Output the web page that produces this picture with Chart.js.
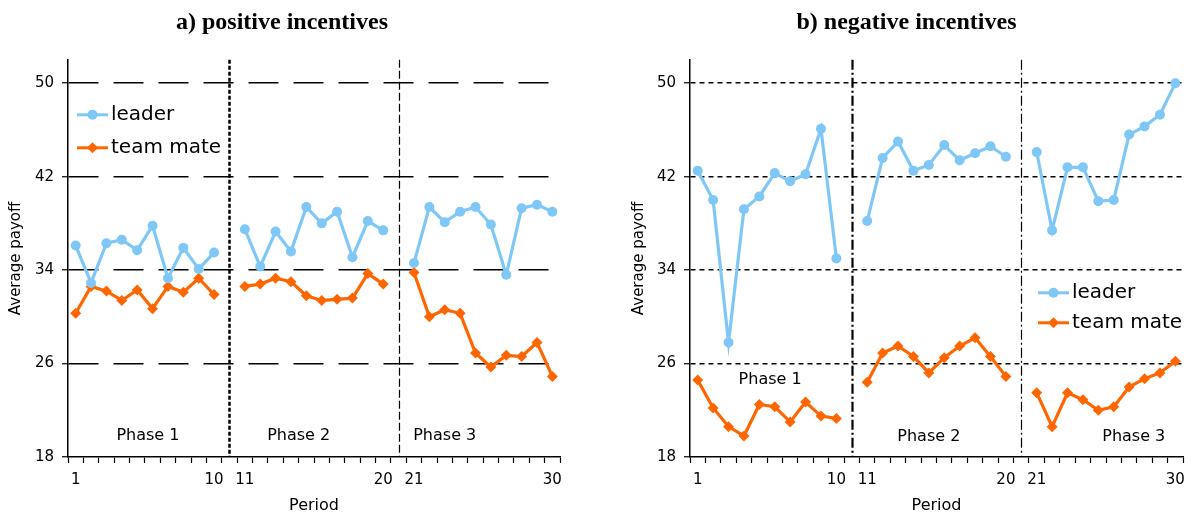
<!DOCTYPE html>
<html>
<head>
<meta charset="utf-8">
<script src="https://cdn.jsdelivr.net/npm/chart.js@4.4.1/dist/chart.umd.min.js"></script>
<style>
  body { margin: 0; background: #fff; }
  #wrap { position: relative; width: 1193px; height: 515px; }
  canvas { position: absolute; top: 0; }
  #left { left: 0; }
  #right { left: 623px; }
</style>
</head>
<body>
<div id="wrap">
  <canvas id="left" width="570" height="515"></canvas>
  <canvas id="right" width="570" height="515"></canvas>
</div>
<script>
'use strict'

var periods = [1, 2, 3, 4, 5, 6, 7, 8, 9, 10, 11, 12, 13, 14, 15, 16, 17, 18, 19, 20, 21, 22, 23, 24, 25, 26, 27, 28, 29, 30];
var shownPeriods = ['1', '10', '11', '20', '21', '30'];
var yTicks = [18, 26, 34, 42, 50];
var seriesNames = ['leader', 'team mate'];

/* a) positive incentives */
var posLeader = [36.1, 32.9, 36.3, 36.6, 35.7, 37.8, 33.3, 35.9, 34.1, 35.5,
                 37.5, 34.3, 37.3, 35.6, 39.4, 38.0, 39.0, 35.1, 38.2, 37.4,
                 34.6, 39.4, 38.1, 39.0, 39.4, 37.9, 33.6, 39.3, 39.6, 39.0];
var posMate = [30.3, 32.6, 32.2, 31.4, 32.3, 30.7, 32.6, 32.1, 33.3, 31.9,
               32.6, 32.8, 33.3, 33.0, 31.8, 31.4, 31.5, 31.6, 33.7, 32.8,
               33.8, 30.0, 30.6, 30.3, 26.9, 25.7, 26.7, 26.6, 27.8, 24.9];

/* b) negative incentives */
var negLeader = [42.5, 40.0, 27.8, 39.2, 40.3, 42.3, 41.6, 42.2, 46.1, 35.0,
                 38.2, 43.6, 45.0, 42.5, 43.0, 44.7, 43.4, 44.0, 44.6, 43.7,
                 44.1, 37.4, 42.8, 42.8, 39.9, 40.0, 45.6, 46.3, 47.3, 50.0];
var negMate = [24.6, 22.2, 20.6, 19.8, 22.5, 22.3, 21.0, 22.7, 21.5, 21.3,
               24.4, 26.9, 27.5, 26.6, 25.2, 26.5, 27.5, 28.2, 26.6, 24.9,
               23.5, 20.6, 23.5, 22.9, 22.0, 22.3, 24.0, 24.7, 25.2, 26.2];

var leaderColor = '#7fc7f7';
var mateColor = '#ff6600';
var sans = 'DejaVu Sans';

// an empty category between the phases breaks the lines
function withGaps(arr) {
    return arr.slice(0, 10).concat([null], arr.slice(10, 20), [null], arr.slice(20));
}
var labels = withGaps(periods.map(String)).map(function (l) { return l === null ? '' : l; });

function drawMarker(ctx, style, x, y, r, color) {
    ctx.fillStyle = color;
    ctx.beginPath();
    if (style === 'circle') {
        ctx.arc(x, y, r, 0, Math.PI * 2);
    } else {
        ctx.moveTo(x, y - r); ctx.lineTo(x + r, y); ctx.lineTo(x, y + r); ctx.lineTo(x - r, y);
        ctx.closePath();
    }
    ctx.fill();
}

var panelDecor = {
    id: 'panelDecor',
    beforeDatasetsDraw: function (chart, args, opts) {
        var ctx = chart.ctx, a = chart.chartArea, xs = chart.scales.x;
        ctx.save();
        opts.separators.forEach(function (s) {
            var x = Math.round(xs.getPixelForValue(s.index)) + 0.5;
            ctx.strokeStyle = '#000';
            ctx.lineWidth = s.width;
            ctx.setLineDash(s.dash);
            ctx.beginPath();
            ctx.moveTo(x, a.top);
            ctx.lineTo(x, a.bottom);
            ctx.stroke();
        });
        ctx.restore();
    },
    afterDatasetsDraw: function (chart, args, opts) {
        var ctx = chart.ctx, a = chart.chartArea, xs = chart.scales.x, ys = chart.scales.y;
        ctx.save();
        ctx.fillStyle = '#000';
        ctx.font = '16px "' + sans + '"';
        ctx.textAlign = 'center';
        ctx.textBaseline = 'middle';
        opts.phases.forEach(function (p, i) {
            ctx.fillText('Phase ' + (i + 1), xs.getPixelForValue(p.x), ys.getPixelForValue(p.y));
        });
        // legend inside the plot area
        var lg = opts.legend;
        chart.data.datasets.forEach(function (ds, i) {
            var y = a.top + lg.top + i * lg.gap;
            var x1 = a.left + lg.left, x2 = x1 + lg.lineLen;
            ctx.strokeStyle = ds.borderColor;
            ctx.lineWidth = 3;
            ctx.beginPath();
            ctx.moveTo(x1, y);
            ctx.lineTo(x2, y);
            ctx.stroke();
            drawMarker(ctx, ds.pointStyle, (x1 + x2) / 2, y, ds.pointRadius, ds.borderColor);
            ctx.fillStyle = '#000';
            ctx.font = '20px "' + sans + '"';
            ctx.textAlign = 'left';
            ctx.fillText(ds.label, x2 + 3, y);
        });
        ctx.restore();
    }
};

function makeChart(id, title, leader, mate, yWidth, padRight, gridDash, decor) {
    var ctx = document.getElementById(id).getContext('2d');
    return new Chart(ctx, {
        type: 'line',
        data: {
            labels: labels,
            datasets: [{
                label: seriesNames[0],
                data: withGaps(leader),
                borderColor: leaderColor,
                backgroundColor: leaderColor,
                borderWidth: 3.2,
                pointStyle: 'circle',
                pointRadius: 5,
                pointBorderWidth: 0,
                tension: 0,
                spanGaps: false
            }, {
                label: seriesNames[1],
                data: withGaps(mate),
                borderColor: mateColor,
                backgroundColor: mateColor,
                borderWidth: 3.2,
                pointStyle: 'rectRot',
                pointRadius: 5.5,
                pointBorderWidth: 0,
                tension: 0,
                spanGaps: false
            }]
        },
        options: {
            responsive: false,
            animation: false,
            events: [],
            layout: { padding: { left: 0, right: padRight, top: 0, bottom: 0 } },
            plugins: {
                legend: { display: false },
                tooltip: { enabled: false },
                title: {
                    display: true,
                    text: title,
                    color: '#000',
                    font: { family: 'Liberation Serif', size: 24, weight: 'bold' },
                    padding: { top: 8, bottom: 23 }
                },
                panelDecor: decor
            },
            scales: {
                x: {
                    type: 'category',
                    offset: true,
                    afterFit: function (s) { s.height = 58; },
                    grid: {
                        offset: true, drawOnChartArea: false, drawTicks: true, tickLength: 6,
                        color: '#000', tickColor: '#000', lineWidth: 1, tickWidth: 1.2
                    },
                    border: { color: '#000', width: 1.5 },
                    ticks: {
                        autoSkip: false, maxRotation: 0, color: '#000', padding: 8,
                        font: { family: sans, size: 15 },
                        callback: function (v) {
                            var l = this.getLabelForValue(v);
                            return shownPeriods.indexOf(l) >= 0 ? l : '';
                        }
                    },
                    title: { display: true, text: 'Period', color: '#000', font: { family: sans, size: 16 }, padding: { top: 0, bottom: 0 } }
                },
                y: {
                    min: 18,
                    max: 52,
                    afterBuildTicks: function (s) { s.ticks = yTicks.map(function (v) { return { value: v }; }); },
                    afterFit: function (s) { s.width = yWidth; },
                    grid: {
                        color: function (c) { return c.tick && c.tick.value === 18 ? 'rgba(0,0,0,0)' : '#000'; },
                        lineWidth: gridDash.width,
                        tickLength: 6,
                        tickColor: '#000',
                        tickWidth: 1.2
                    },
                    border: { color: '#000', width: 1.5, dash: gridDash.dash },
                    ticks: { color: '#000', padding: 8, font: { family: sans, size: 15 } },
                    title: { display: true, text: 'Average payoff', color: '#000', font: { family: sans, size: 15 }, padding: { top: 7, bottom: 0 } }
                }
            }
        },
        plugins: [panelDecor]
    });
}

makeChart('left', 'a) positive incentives', posLeader, posMate, 68, 6, { dash: [30, 15], width: 1.5 }, {
    separators: [{ index: 10, width: 2.5, dash: [4, 2] }, { index: 21, width: 1.2, dash: [8, 3] }],
    phases: [{ x: 4.7, y: 19.8 }, { x: 14.5, y: 19.8 }, { x: 24.0, y: 19.8 }],
    legend: { left: 9, lineLen: 31, top: 55, gap: 33 }
});

makeChart('right', 'b) negative incentives', negLeader, negMate, 67, 3, { dash: [5, 4], width: 1.5 }, {
    separators: [{ index: 10, width: 2.2, dash: [10, 3, 2, 3] }, { index: 21, width: 1.2, dash: [10, 3, 2, 3] }],
    phases: [{ x: 4.7, y: 24.6 }, { x: 15.0, y: 19.7 }, { x: 28.3, y: 19.7 }],
    legend: { left: 348, lineLen: 31, top: 233, gap: 30 }
});
</script>
</body>
</html>
